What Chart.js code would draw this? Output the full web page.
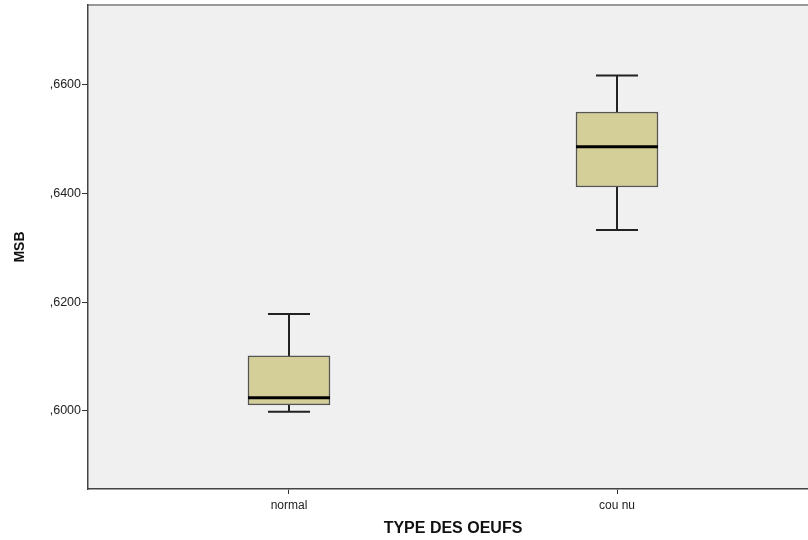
<!DOCTYPE html>
<html>
<head>
<meta charset="utf-8">
<script src="https://cdn.jsdelivr.net/npm/chart.js@4.4.1/dist/chart.umd.min.js"></script>
<style>
  html, body { margin: 0; padding: 0; background: #fff; }
  #wrap { width: 808px; height: 540px; overflow: hidden; }
  #box { width: 820px; height: 540px; }
</style>
</head>
<body>
<div id="wrap"><div id="box"><canvas id="c"></canvas></div></div>
<script>
const categories = ['normal', 'cou nu'];
const whiskerMin = [0.5998, 0.6333];
const q1 = [0.6011, 0.6412];
const median = [0.6024, 0.6486];
const q3 = [0.6101, 0.6550];
const whiskerMax = [0.6178, 0.6617];
const yTicks = [0.60, 0.62, 0.64, 0.66];

// whiskers, caps, median and plot background
const boxExtras = {
  id: 'boxExtras',
  beforeDraw(chart) {
    const { ctx, chartArea: a } = chart;
    ctx.save();
    ctx.fillStyle = '#f0f0f0';
    ctx.fillRect(a.left, a.top, a.right - a.left, a.bottom - a.top);
    ctx.strokeStyle = '#999';
    ctx.lineWidth = 2;
    ctx.beginPath();
    ctx.moveTo(a.left, a.top);
    ctx.lineTo(a.right, a.top);
    ctx.stroke();
    ctx.restore();
  },
  beforeDatasetsDraw(chart) {
    const { ctx } = chart;
    const x = chart.scales.x, y = chart.scales.y;
    ctx.save();
    ctx.strokeStyle = '#222';
    ctx.lineWidth = 2;
    categories.forEach((c, i) => {
      const px = Math.round(x.getPixelForValue(i + 1));
      ctx.beginPath();
      ctx.moveTo(px, y.getPixelForValue(q3[i]));
      ctx.lineTo(px, y.getPixelForValue(whiskerMax[i]));
      ctx.moveTo(px, y.getPixelForValue(q1[i]));
      ctx.lineTo(px, y.getPixelForValue(whiskerMin[i]));
      ctx.moveTo(px - 21, y.getPixelForValue(whiskerMax[i]));
      ctx.lineTo(px + 21, y.getPixelForValue(whiskerMax[i]));
      ctx.moveTo(px - 21, y.getPixelForValue(whiskerMin[i]));
      ctx.lineTo(px + 21, y.getPixelForValue(whiskerMin[i]));
      ctx.stroke();
    });
    ctx.restore();
  },
  afterDatasetsDraw(chart) {
    const { ctx } = chart;
    const x = chart.scales.x, y = chart.scales.y;
    ctx.save();
    ctx.strokeStyle = '#000';
    ctx.lineWidth = 3;
    categories.forEach((c, i) => {
      const px = x.getPixelForValue(i + 1);
      const py = y.getPixelForValue(median[i]);
      ctx.beginPath();
      ctx.moveTo(px - 41, py);
      ctx.lineTo(px + 41, py);
      ctx.stroke();
    });
    ctx.restore();
  }
};

new Chart(document.getElementById('c'), {
  type: 'bar',
  data: {
    datasets: [{
      data: categories.map((c, i) => ({ x: i + 1, y: [q1[i], q3[i]] })),
      backgroundColor: '#d4cf99',
      borderColor: '#555',
      borderWidth: 1.5,
      borderSkipped: false,
      barThickness: 82
    }]
  },
  plugins: [boxExtras],
  options: {
    responsive: true,
    maintainAspectRatio: false,
    animation: false,
    layout: { padding: { top: 5, right: 2, left: 0, bottom: 0 } },
    plugins: { legend: { display: false }, tooltip: { enabled: false } },
    scales: {
      x: {
        type: 'linear',
        offset: false,
        min: 0.3872,
        max: 2.6128,
        afterBuildTicks: s => { s.ticks = categories.map((c, i) => ({ value: i + 1 })); },
        afterFit: s => { s.height = 51; s.paddingLeft = 0; s.paddingRight = 0; },
        ticks: {
          callback: v => categories[v - 1],
          color: '#222',
          font: { family: 'Liberation Sans', size: 12 },
          padding: 4,
          autoSkip: false,
          maxRotation: 0
        },
        grid: { offset: false, drawOnChartArea: false, tickLength: 5, tickColor: '#333' },
        border: { color: '#444', width: 1.5 },
        title: {
          display: true,
          text: 'TYPE DES OEUFS',
          color: '#111',
          font: { family: 'Liberation Sans', size: 16, weight: 'bold' },
          padding: { top: 0, bottom: 2 }
        }
      },
      y: {
        min: 0.5856,
        max: 0.6747,
        afterBuildTicks: s => { s.ticks = yTicks.map(v => ({ value: v })); },
        afterFit: s => { s.width = 88; s.paddingTop = 0; s.paddingBottom = 0; },
        ticks: {
          callback: v => ',' + (v.toFixed(4).split('.')[1]),
          color: '#222',
          font: { family: 'Liberation Sans', size: 12.5 },
          padding: 1
        },
        grid: { drawOnChartArea: false, tickLength: 6, tickColor: '#333' },
        border: { color: '#444', width: 1.5 },
        title: {
          display: true,
          text: 'MSB',
          color: '#111',
          font: { family: 'Liberation Sans', size: 14, weight: 'bold' },
          padding: { top: 12, bottom: 0 }
        }
      }
    }
  }
});
</script>
</body>
</html>
